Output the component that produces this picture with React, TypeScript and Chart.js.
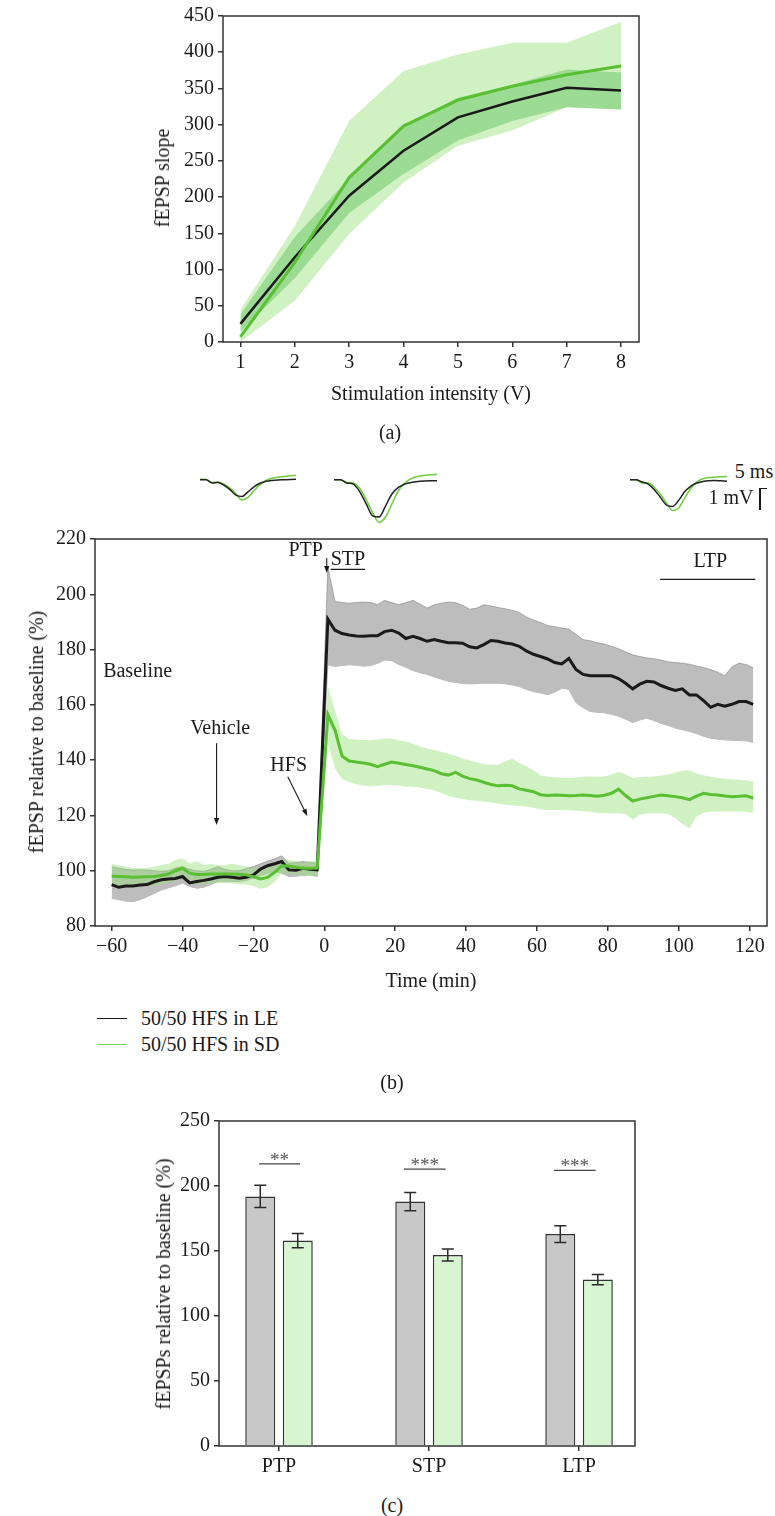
import React, { useEffect, useRef } from "react";
import { Chart, registerables } from "chart.js";

Chart.register(...registerables);

const FONT = '"Liberation Serif", "DejaVu Serif", "Times New Roman", serif';
Chart.defaults.font.family = FONT;
Chart.defaults.font.size = 20;
Chart.defaults.color = "#1a1a1a";

// ---------------- Panel (a): input/output curve ----------------
const intensityV = [1, 2, 3, 4, 5, 6, 7, 8];
const intensityTicks = [1, 2, 3, 4, 5, 6, 7, 8];
const slopeTicks = [0, 50, 100, 150, 200, 250, 300, 350, 400, 450];
const leSlopeMean = [25, 117, 202, 264, 310, 332, 351, 347];
const leSlopeUpper = [38, 145, 226, 298, 337, 355, 376, 372];
const leSlopeLower = [14, 88, 178, 232, 278, 305, 324, 321];
const sdSlopeMean = [7, 110, 227, 298, 334, 353, 369, 381];
const sdSlopeUpper = [44, 160, 305, 374, 397, 413, 413, 442];
const sdSlopeLower = [0, 57, 149, 220, 271, 292, 324, 321];

// ---------------- Panel (b): time course ----------------
const timeMin = [
  -60, -58, -56, -54, -52, -50, -48, -46, -44, -42, -40, -38, -36, -34, -32,
  -30, -28, -26, -24, -22, -20, -18, -16, -14, -12, -10, -8, -6, -4, -2,
  1, 3, 5, 7, 9, 11, 13, 15, 17, 19, 21, 23, 25, 27, 29, 31, 33, 35, 37, 39,
  41, 43, 45, 47, 49, 51, 53, 55, 57, 59, 61, 63, 65, 67, 69, 71, 73, 75, 77, 79,
  81, 83, 85, 87, 89, 91, 93, 95, 97, 99, 101, 103, 105, 107, 109, 111, 113, 115, 117, 119,
  121,
];
const timeTicks = [-60, -40, -20, 0, 20, 40, 60, 80, 100, 120];
const percentTicks = [80, 100, 120, 140, 160, 180, 200, 220];

const leMean = [
  95.0, 94.0, 94.5, 94.5, 94.8, 95.0, 96.0, 96.7, 97.0, 97.2, 97.9, 95.6, 96.1, 96.5, 97.0,
  97.6, 97.9, 97.6, 97.3, 97.6, 98.5, 100.6, 101.8, 102.5, 103.3, 100.3, 100.2, 100.9, 100.5, 100.3,
  191, 187, 185.8, 185.3, 184.9, 184.8, 185, 185, 186.5, 187,
  186, 184, 184.8, 184, 183, 183.6, 183, 182.5, 182.5, 182.3,
  181, 180.6, 181.8, 183.3, 183, 182.4, 182, 181.2, 179.5, 178.3,
  177.5, 176.6, 175.3, 174.8, 176.8, 172.8, 171, 170.5, 170.5, 170.5,
  170.5, 169.5, 167.8, 165.8, 167.5, 168.5, 168.3, 167, 166, 165.2,
  165.8, 163.6, 163.6, 161.5, 159.1, 160.2, 159.5, 160.2, 161.2, 161.2,
  160.2,
];
const leUpper = [
  101.5, 101, 100.5, 100.3, 100.3, 100.3, 100, 99.8, 100, 101, 101.5, 100.5, 100, 99.8, 100.5,
  101.5, 100.5, 100, 100, 100.8, 101.5, 102.5, 103.5, 104.3, 105.4, 102.7, 103, 103.3, 103, 102.7,
  210, 197.5, 197, 196.8, 197, 197.2, 197, 196.3, 197.8, 197,
  196.3, 197, 197.8, 196.5, 195, 196.2, 196.8, 197.2, 197, 196,
  194.6, 195, 196.2, 195.8, 195.2, 194.8, 194.2, 193.4, 191.8, 190.7,
  189.8, 188.7, 188.3, 187.8, 187.4, 185.5, 183.6, 183.2, 182.5, 182,
  181.2, 180.3, 179.2, 178.1, 177.5, 177, 176.7, 176.2, 175.6, 175.3,
  175.1, 174.7, 174.1, 173.5, 172.8, 171.8, 170.5, 173.8, 175.1, 174.6,
  173.4,
];
const leLower = [
  90, 89.5, 89, 88.8, 89.5, 90.6, 91.8, 93, 93.8, 94.5, 95.5, 94.3, 93.7, 94, 95,
  96.1, 96.1, 96, 96.1, 96.5, 97.3, 98.2, 99, 99.7, 99.1, 97.9, 98, 98.3, 98.5, 97.9,
  174.5, 173.9, 174.2, 174.5, 174.3, 174, 174.2, 175, 176.2, 176,
  174.6, 173.6, 172.4, 171.6, 171, 170.1, 169.3, 168.5, 168.1, 167.7,
  167.6, 167.7, 167.8, 167.8, 167.8, 167.6, 167.2, 166.6, 165.6, 164.8,
  164.3, 163.7, 164.6, 166, 165.6, 160.8, 159, 157.6, 157.3, 157.1,
  156.6, 155.9, 154.8, 153.6, 154.5, 155.2, 154.3, 153.3, 152.5, 151.6,
  151, 150.4, 149.6, 148.6, 147.9, 147.6, 147.3, 147.2, 147.1, 147,
  146.4,
];
const sdMean = [
  98, 97.9, 97.8, 97.6, 97.7, 97.8, 97.9, 98.3, 98.8, 100, 100.9, 99.1, 98.6, 98.6, 98.8,
  98.8, 98.8, 98.8, 98.7, 98.5, 97.8, 97.0, 97.6, 99.4, 101.8, 101.7, 101.3, 100.9, 100.9, 101.0,
  156.5, 150.9, 141.5, 139.7, 139.3, 139, 138.5, 137.6, 138.5, 139.3,
  138.9, 138.4, 138, 137.4, 136.8, 136.2, 135.1, 134.6, 135.6, 134.2,
  133.3, 132.8, 132, 131.2, 130.7, 130.9, 130.7, 129.6, 129.1, 128.6,
  127.5, 127.2, 127.4, 127.3, 127.1, 127.2, 127.4, 127.2, 126.9, 127.3,
  128, 129.5, 127.2, 125.2, 125.9, 126.4, 126.9, 127.4, 127.1, 126.8,
  126.4, 125.7, 127, 128, 127.6, 127.4, 127, 126.8, 126.9, 127.1,
  126.3,
];
const sdUpper = [
  102.5, 102, 101.5, 101, 101, 101, 101.5, 102, 102.5, 104, 104.5, 102.5, 103.5, 102, 102.5,
  102, 102, 102.5, 102, 101.5, 101, 101, 101.5, 102.5, 104, 104, 103.5, 103, 103.5, 103.5,
  167, 158, 149.5, 147.6, 147.5, 147.3, 147.3, 147.5, 147.8, 147.8,
  147.2, 146.7, 145.9, 145, 144.2, 143.7, 143, 142.3, 141.6, 140.7,
  139.9, 139.2, 138.5, 138.3, 138.3, 139.5, 140.5, 139, 137.8, 136.3,
  134.5, 134, 133.8, 133.6, 133.5, 133.7, 134, 134.1, 134.1, 134.1,
  134.8, 135.7, 134.9, 133.5, 133.8, 134, 134.1, 134.4, 134.8, 135.5,
  136.2, 136.3, 135.2, 134.5, 134, 133.6, 133.3, 133, 132.9, 132.6,
  132.3,
];
const sdLower = [
  94, 94.5, 94.5, 94, 94.5, 94.5, 94.5, 95, 95.5, 96.5, 97, 95.5, 95, 95.5, 95.5,
  95.5, 95.5, 95.5, 95, 95, 94.5, 93.5, 94, 96, 99, 99, 98.5, 98, 98, 98,
  146, 137, 133.2, 132, 131.3, 130.8, 130.5, 130.7, 131, 131,
  130.8, 130.5, 130.4, 130.1, 129.6, 129.1, 128, 127, 126.4, 125.9,
  125.5, 125.3, 125, 124.7, 124.3, 123.9, 123.6, 123.4, 123.2, 122.8,
  122.2, 122, 122, 122, 121.9, 121.7, 121.5, 121.3, 121, 120.8,
  120.8, 120.8, 120.5, 118.4, 120.2, 120.8, 120.8, 120.8, 120.5, 119,
  117, 115.4, 119.5, 121, 121.3, 121.4, 121.4, 121.4, 121.4, 121.2,
  121,
];

// Example fEPSP traces (mV, equally spaced samples)
const traceSamples = [0, 1, 2, 3, 4, 5, 6, 7, 8, 9, 10, 11, 12, 13, 14, 15, 16];
const traceBaseLE = [0, 0, -0.15, -0.12, -0.25, -0.45, -0.7, -0.76, -0.55, -0.32, -0.16, -0.07, -0.03, -0.01, 0, 0.01, 0.02];
const traceBaseSD = [0.02, 0.02, -0.12, -0.1, -0.2, -0.38, -0.65, -0.92, -0.8, -0.5, -0.22, -0.03, 0.07, 0.12, 0.15, 0.18, 0.2];
const tracePtpLE = [0, 0, -0.15, -0.2, -0.55, -1.1, -1.65, -1.7, -1.2, -0.65, -0.35, -0.2, -0.12, -0.08, -0.06, -0.05, -0.05];
const tracePtpSD = [0, 0, -0.12, -0.15, -0.4, -0.9, -1.5, -1.95, -1.7, -1.1, -0.5, -0.15, 0.05, 0.15, 0.2, 0.23, 0.25];
const traceLtpLE = [0, 0, -0.1, -0.2, -0.45, -0.8, -1.15, -1.22, -0.95, -0.55, -0.3, -0.15, -0.08, -0.04, -0.03, -0.05, -0.07];
const traceLtpSD = [0, 0, -0.15, -0.15, -0.35, -0.65, -1.05, -1.4, -1.3, -0.85, -0.4, -0.1, 0.05, 0.1, 0.12, 0.14, 0.15];

// ---------------- Panel (c): bar summary ----------------
const phaseLabels = ["PTP", "STP", "LTP"];
const phaseX = [0, 1, 2];
const barTicks = [0, 50, 100, 150, 200, 250];
const leBarMean = [192, 188, 163];
const leBarSem = [8.6, 7, 6.5];
const sdBarMean = [158, 147, 128];
const sdBarSem = [5.5, 4.6, 4];
const sigStars = ["**", "***", "***"];
const sigLevel = [217, 213, 212];

// ---------------- styling / annotation layout ----------------
const INK = "#1a1a1a";
const AXIS = "#333333";
const GREEN_LINE = "#58c032";
const GREEN_BAND = "rgba(150, 225, 120, 0.45)";
const GREEN_BAND_DARK = "rgba(60, 180, 60, 0.35)";
const GRAY_BAND = "#bdbdbd";

const timeNotes = [
  { text: "PTP", t: -0.4, v: 215.7, align: "right" },
  { text: "STP", t: 1.8, v: 212.4, align: "left" },
  { text: "LTP", t: 108.9, v: 211.8, align: "center" },
  { text: "Baseline", t: -62.4, v: 172, align: "left" },
  { text: "Vehicle", t: -29.4, v: 151.5, align: "center" },
  { text: "HFS", t: -10.05, v: 137.9, align: "center" },
];
const timeSegments = [
  { t0: 1.8, t1: 11.5, v: 209.0 },
  { t0: 94.75, t1: 121.6, v: 205.4 },
];
const timeArrows = [
  { t0: 0.68, v0: 213.1, t1: 0.68, v1: 207.7 },
  { t0: -30.4, v0: 146.1, t1: -30.4, v1: 116.5 },
  { t0: -10.3, v0: 134.0, t1: -4.8, v1: 119.8 },
];
const sigSpan = [
  [-0.133, 0.14],
  [-0.167, 0.111],
  [-0.167, 0.111],
];

const minusSign = (v: number | string) => String(v).replace("-", "\u2212");
const fixedTicks = (values: number[]) => (scale: any) => {
  scale.ticks = values.map((value) => ({ value }));
};
const pts = (xs: number[], ys: number[]) => xs.map((x, i) => ({ x, y: ys[i] }));

function axisBase() {
  return {
    border: { display: false },
    grid: {
      display: true,
      drawOnChartArea: false,
      drawTicks: true,
      tickLength: 5,
      color: AXIS,
      lineWidth: 1.5,
      offset: false,
    },
    ticks: {
      color: INK,
      font: { family: FONT, size: 20 },
      padding: 4,
      maxRotation: 0,
      autoSkip: false,
    },
  };
}

const boxPlugin = {
  id: "frameBox",
  afterDatasetsDraw(chart: any) {
    const { ctx, chartArea } = chart;
    ctx.save();
    ctx.strokeStyle = AXIS;
    ctx.lineWidth = 1.5;
    ctx.strokeRect(chartArea.left, chartArea.top, chartArea.right - chartArea.left, chartArea.bottom - chartArea.top);
    ctx.restore();
  },
};

function drawArrow(ctx: CanvasRenderingContext2D, x0: number, y0: number, x1: number, y1: number) {
  const ang = Math.atan2(y1 - y0, x1 - x0);
  const len = 7;
  const hw = 2.6;
  const bx = x1 - len * Math.cos(ang);
  const by = y1 - len * Math.sin(ang);
  ctx.beginPath();
  ctx.moveTo(x0, y0);
  ctx.lineTo(bx, by);
  ctx.stroke();
  ctx.beginPath();
  ctx.moveTo(x1, y1);
  ctx.lineTo(bx + hw * Math.sin(ang), by - hw * Math.cos(ang));
  ctx.lineTo(bx - hw * Math.sin(ang), by + hw * Math.cos(ang));
  ctx.closePath();
  ctx.fill();
}

const timeNotesPlugin = {
  id: "timeNotes",
  afterDraw(chart: any) {
    const { ctx } = chart;
    const x = chart.scales.x;
    const y = chart.scales.y;
    ctx.save();
    ctx.fillStyle = INK;
    ctx.strokeStyle = INK;
    ctx.font = `20px ${FONT}`;
    ctx.textBaseline = "middle";
    for (const n of timeNotes) {
      ctx.textAlign = n.align as CanvasTextAlign;
      ctx.fillText(n.text, x.getPixelForValue(n.t), y.getPixelForValue(n.v));
    }
    ctx.lineWidth = 1.3;
    for (const s of timeSegments) {
      const yy = y.getPixelForValue(s.v);
      ctx.beginPath();
      ctx.moveTo(x.getPixelForValue(s.t0), yy);
      ctx.lineTo(x.getPixelForValue(s.t1), yy);
      ctx.stroke();
    }
    ctx.lineWidth = 1.1;
    for (const a of timeArrows) {
      drawArrow(ctx, x.getPixelForValue(a.t0), y.getPixelForValue(a.v0), x.getPixelForValue(a.t1), y.getPixelForValue(a.v1));
    }
    ctx.restore();
  },
};

const errorBarPlugin = {
  id: "errorBars",
  afterDatasetsDraw(chart: any) {
    const { ctx } = chart;
    const y = chart.scales.y;
    ctx.save();
    ctx.strokeStyle = "#2a2a2a";
    ctx.lineWidth = 1.5;
    chart.data.datasets.forEach((ds: any, di: number) => {
      const meta = chart.getDatasetMeta(di);
      meta.data.forEach((bar: any, i: number) => {
        const v = ds.data[i].y;
        const e = ds.errors[i];
        const yt = y.getPixelForValue(v + e);
        const yb = y.getPixelForValue(v - e);
        const cx = bar.x;
        ctx.beginPath();
        ctx.moveTo(cx, yt);
        ctx.lineTo(cx, yb);
        ctx.moveTo(cx - 6, yt);
        ctx.lineTo(cx + 6, yt);
        ctx.moveTo(cx - 6, yb);
        ctx.lineTo(cx + 6, yb);
        ctx.stroke();
      });
    });
    ctx.restore();
  },
};

const sigPlugin = {
  id: "significance",
  afterDatasetsDraw(chart: any) {
    const { ctx } = chart;
    const x = chart.scales.x;
    const y = chart.scales.y;
    ctx.save();
    ctx.strokeStyle = "#444";
    ctx.fillStyle = "#555";
    ctx.lineWidth = 1.3;
    ctx.font = `19px ${FONT}`;
    ctx.textAlign = "center";
    ctx.textBaseline = "alphabetic";
    phaseX.forEach((px, i) => {
      const x0 = x.getPixelForValue(px + sigSpan[i][0]);
      const x1 = x.getPixelForValue(px + sigSpan[i][1]);
      const yy = y.getPixelForValue(sigLevel[i]);
      ctx.beginPath();
      ctx.moveTo(x0, yy);
      ctx.lineTo(x1, yy);
      ctx.stroke();
      ctx.fillText(sigStars[i], (x0 + x1) / 2, yy + 2);
    });
    ctx.restore();
  },
};

function buildPanelA(): any {
  const base = axisBase();
  return {
    type: "line",
    data: {
      datasets: [
        { data: pts(intensityV, sdSlopeUpper), fill: "+1", backgroundColor: GREEN_BAND, borderColor: "transparent", borderWidth: 0, pointRadius: 0, tension: 0, order: 20 },
        { data: pts(intensityV, sdSlopeLower), fill: false, borderColor: "transparent", borderWidth: 0, pointRadius: 0, tension: 0, order: 20 },
        { data: pts(intensityV, leSlopeUpper), fill: "+1", backgroundColor: GREEN_BAND_DARK, borderColor: "transparent", borderWidth: 0, pointRadius: 0, tension: 0, order: 15 },
        { data: pts(intensityV, leSlopeLower), fill: false, borderColor: "transparent", borderWidth: 0, pointRadius: 0, tension: 0, order: 15 },
        { data: pts(intensityV, leSlopeMean), fill: false, borderColor: INK, borderWidth: 2.5, pointRadius: 0, tension: 0, order: 2 },
        { data: pts(intensityV, sdSlopeMean), fill: false, borderColor: GREEN_LINE, borderWidth: 3, pointRadius: 0, tension: 0, order: 1 },
      ],
    },
    options: {
      responsive: false,
      animation: false,
      events: [],
      layout: { padding: { top: 15, right: 11, left: 0, bottom: 0 } },
      plugins: { legend: { display: false }, tooltip: { enabled: false } },
      scales: {
        x: {
          type: "linear",
          min: 0.68,
          max: 8.33,
          ...base,
          afterBuildTicks: fixedTicks(intensityTicks),
          afterFit: (s: any) => {
            s.height = 78;
          },
        },
        y: {
          type: "linear",
          min: 0,
          max: 450,
          ...base,
          afterBuildTicks: fixedTicks(slopeTicks),
          afterFit: (s: any) => {
            s.width = 73;
          },
        },
      },
    },
    plugins: [boxPlugin],
  };
}

function buildPanelB(): any {
  const base = axisBase();
  return {
    type: "line",
    data: {
      datasets: [
        { data: pts(timeMin, leUpper), fill: "+1", backgroundColor: GRAY_BAND, borderColor: "rgba(110,110,110,0.6)", borderWidth: 0.8, pointRadius: 0, tension: 0, order: 30 },
        { data: pts(timeMin, leLower), fill: false, borderColor: "rgba(110,110,110,0.6)", borderWidth: 0.8, pointRadius: 0, tension: 0, order: 30 },
        { data: pts(timeMin, sdUpper), fill: "+1", backgroundColor: GREEN_BAND, borderColor: "transparent", borderWidth: 0, pointRadius: 0, tension: 0, order: 20 },
        { data: pts(timeMin, sdLower), fill: false, borderColor: "transparent", borderWidth: 0, pointRadius: 0, tension: 0, order: 20 },
        { data: pts(timeMin, leMean), fill: false, borderColor: INK, borderWidth: 3, pointRadius: 0, tension: 0, order: 2 },
        { data: pts(timeMin, sdMean), fill: false, borderColor: GREEN_LINE, borderWidth: 3, pointRadius: 0, tension: 0, order: 1 },
      ],
    },
    options: {
      responsive: false,
      animation: false,
      events: [],
      layout: { padding: { top: 24, right: 8, left: 0, bottom: 0 } },
      plugins: { legend: { display: false }, tooltip: { enabled: false } },
      scales: {
        x: {
          type: "linear",
          min: -64.7,
          max: 124.9,
          ...base,
          ticks: { ...base.ticks, callback: (v: number) => minusSign(v) },
          afterBuildTicks: fixedTicks(timeTicks),
          afterFit: (s: any) => {
            s.height = 44;
          },
        },
        y: {
          type: "linear",
          min: 80,
          max: 220,
          ...base,
          afterBuildTicks: fixedTicks(percentTicks),
          afterFit: (s: any) => {
            s.width = 75;
          },
        },
      },
    },
    plugins: [boxPlugin, timeNotesPlugin],
  };
}

function buildPanelC(): any {
  const base = axisBase();
  return {
    type: "bar",
    data: {
      datasets: [
        { data: pts(phaseX, leBarMean), errors: leBarSem, backgroundColor: "#c8c8c8", borderColor: "#333", borderWidth: 1.5, categoryPercentage: 0.5, barPercentage: 0.8 },
        { data: pts(phaseX, sdBarMean), errors: sdBarSem, backgroundColor: "#d6f5d0", borderColor: "#333", borderWidth: 1.5, categoryPercentage: 0.5, barPercentage: 0.8 },
      ],
    },
    options: {
      responsive: false,
      animation: false,
      events: [],
      layout: { padding: { top: 21, right: 10, left: 0, bottom: 0 } },
      plugins: { legend: { display: false }, tooltip: { enabled: false } },
      scales: {
        x: {
          type: "linear",
          offset: false,
          min: -0.4,
          max: 2.373,
          ...base,
          ticks: { ...base.ticks, callback: (v: number) => phaseLabels[Math.round(v)] },
          afterBuildTicks: fixedTicks(phaseX),
          afterFit: (s: any) => {
            s.height = 44;
          },
        },
        y: {
          type: "linear",
          min: 0,
          max: 250,
          ...base,
          afterBuildTicks: fixedTicks(barTicks),
          afterFit: (s: any) => {
            s.width = 89;
          },
        },
      },
    },
    plugins: [boxPlugin, errorBarPlugin, sigPlugin],
  };
}

function buildTrace(le: number[], sd: number[]) {
  return (): any => ({
    type: "line",
    data: {
      labels: traceSamples,
      datasets: [
        { data: le, borderColor: "#222", borderWidth: 1.5, pointRadius: 0, cubicInterpolationMode: "monotone", clip: false, order: 1 },
        { data: sd, borderColor: "#6ccf3c", borderWidth: 1.5, pointRadius: 0, cubicInterpolationMode: "monotone", clip: false, order: 2 },
      ],
    },
    options: {
      responsive: false,
      animation: false,
      events: [],
      layout: { padding: 0 },
      plugins: { legend: { display: false }, tooltip: { enabled: false } },
      scales: {
        x: { display: false },
        y: { display: false, min: -2.2, max: 0.4 },
      },
    },
  });
}

const buildTraceBase = buildTrace(traceBaseLE, traceBaseSD);
const buildTracePtp = buildTrace(tracePtpLE, tracePtpSD);
const buildTraceLtp = buildTrace(traceLtpLE, traceLtpSD);

function ChartCanvas(props: { left: number; top: number; width: number; height: number; build: () => any }) {
  const { left, top, width, height, build } = props;
  const ref = useRef<HTMLCanvasElement | null>(null);
  useEffect(() => {
    if (!ref.current) return;
    const chart = new Chart(ref.current, build());
    return () => chart.destroy();
  }, [build]);
  return <canvas ref={ref} width={width} height={height} style={{ position: "absolute", left, top, width, height }} />;
}

function Label(props: { x: number; y: number; text: string; rotate?: boolean; size?: number; align?: "center" | "left" }) {
  const { x, y, text, rotate = false, size = 20, align = "center" } = props;
  const transform = rotate
    ? "translate(-50%, -50%) rotate(-90deg)"
    : align === "left"
    ? "translate(0, -50%)"
    : "translate(-50%, -50%)";
  return (
    <div
      style={{
        position: "absolute",
        left: x,
        top: y,
        transform,
        fontFamily: FONT,
        fontSize: size,
        lineHeight: 1,
        color: INK,
        whiteSpace: "nowrap",
      }}
    >
      {text}
    </div>
  );
}

function Rule(props: { left: number; top: number; width: number; height: number; color: string }) {
  const { left, top, width, height, color } = props;
  return <div style={{ position: "absolute", left, top, width, height, background: color }} />;
}

export default function App() {
  return (
    <div
      style={{
        position: "absolute",
        left: 0,
        top: 0,
        width: 775,
        height: 1516,
        overflow: "hidden",
        background: "#ffffff",
      }}
    >
      {/* Panel (a) */}
      <ChartCanvas left={150} top={0} width={500} height={420} build={buildPanelA} />
      <Label x={162} y={178} text="fEPSP slope" rotate />
      <Label x={431} y={393} text="Stimulation intensity (V)" />
      <Label x={390} y={432} text="(a)" />

      {/* Panel (b) example traces */}
      <ChartCanvas left={200} top={471} width={96} height={57} build={buildTraceBase} />
      <ChartCanvas left={334} top={471} width={103} height={57} build={buildTracePtp} />
      <ChartCanvas left={630} top={471} width={97} height={57} build={buildTraceLtp} />
      <Label x={754} y={471} text="5 ms" />
      <Label x={731} y={497} text="1 mV" />
      <Rule left={759} top={488} width={1.5} height={22} color={INK} />
      <Rule left={759} top={487.5} width={8} height={1.5} color={INK} />

      {/* Panel (b) */}
      <ChartCanvas left={20} top={515} width={755} height={455} build={buildPanelB} />
      <Label x={36} y={732} text="fEPSP relative to baseline (%)" rotate />
      <Label x={431} y={980} text="Time (min)" />
      <Rule left={97} top={1017.5} width={30} height={1.5} color={INK} />
      <Label x={141} y={1018} text="50/50 HFS in LE" align="left" />
      <Rule left={97} top={1043.5} width={30} height={1.2} color="#7ccf50" />
      <Label x={141} y={1044} text="50/50 HFS in SD" align="left" />
      <Label x={392} y={1082} text="(b)" />

      {/* Panel (c) */}
      <ChartCanvas left={130} top={1100} width={515} height={390} build={buildPanelC} />
      <Label x={163} y={1284} text="fEPSPs relative to baseline (%)" rotate />
      <Label x={392} y={1505} text="(c)" />
    </div>
  );
}
